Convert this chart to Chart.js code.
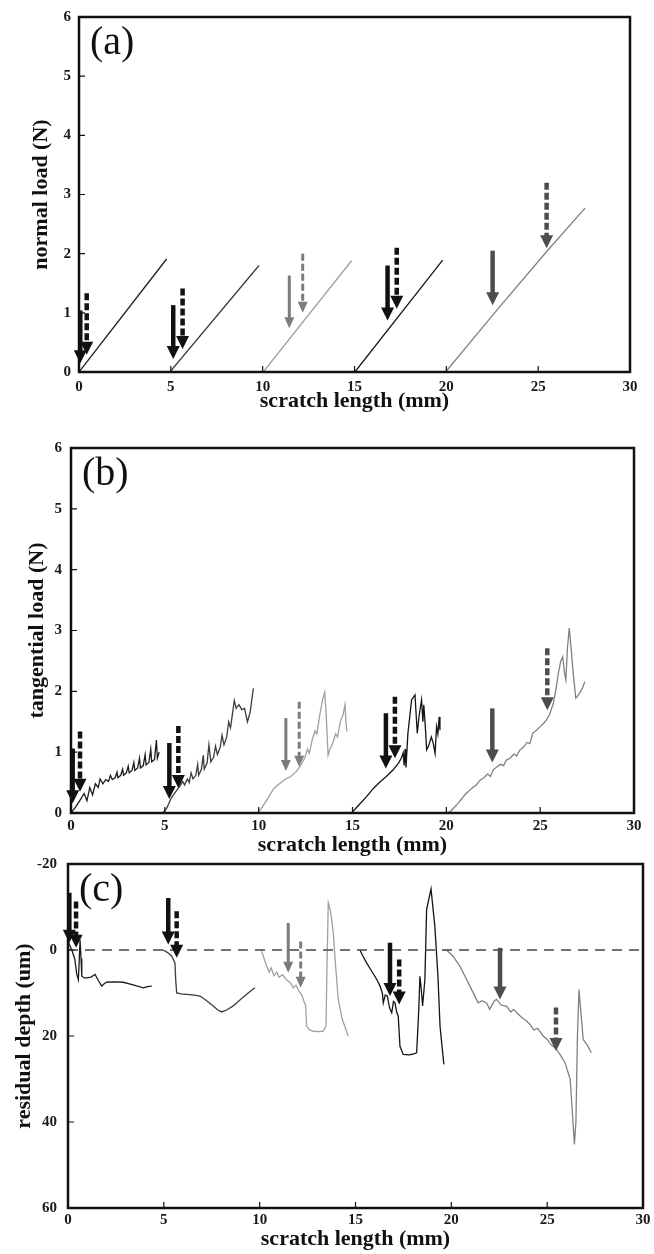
<!DOCTYPE html>
<html>
<head>
<meta charset="utf-8">
<script src="https://cdn.jsdelivr.net/npm/chart.js@4.4.1/dist/chart.umd.min.js"></script>
<style>
  html, body { margin: 0; padding: 0; background: #fff; }
  #page { position: relative; width: 654px; height: 1254px; overflow: hidden; background: #fff; }
  canvas { position: absolute; left: 0; }
</style>
</head>
<body>
<div id="page">
  <canvas id="normalChart" width="654" height="430" style="top:0px"></canvas>
  <canvas id="tangentialChart" width="654" height="450" style="top:420px"></canvas>
  <canvas id="depthChart" width="654" height="414" style="top:840px"></canvas>
</div>
<script>
// tick values
const lengthTicks = [0, 5, 10, 15, 20, 25, 30];
const loadTicks = [0, 1, 2, 3, 4, 5, 6];
const depthTicks = [-20, 0, 20, 40, 60];

// (a) normal load (N) vs scratch length (mm), one run per track
const normalRun1 = [[0, 0], [4.77, 1.91]];
const normalRun2 = [[4.95, 0], [9.8, 1.8]];
const normalRun3 = [[10.03, 0], [14.84, 1.88]];
const normalRun4 = [[15.02, 0], [19.8, 1.89]];
const normalRun5 = [[19.96, 0], [22.9, 1.1], [25.5, 2.05], [27.55, 2.77]];
// arrows: [x, start value, tip value]
const normalSolidArrows = [[0.07, 1.04, 0.15], [5.13, 1.13, 0.22], [11.45, 1.63, 0.74], [16.8, 1.8, 0.87], [22.52, 2.05, 1.13]];
const normalDashedArrows = [[0.42, 1.33, 0.29], [5.64, 1.41, 0.39], [12.18, 2.0, 1.0], [17.3, 2.1, 1.07], [25.46, 3.2, 2.09]];

// (b) tangential load (N)
const tangentialRun1 = [[0, 0], [0.25, 0.1], [0.5, 0.22], [0.7, 0.32], [0.85, 0.2], [1.0, 0.42], [1.15, 0.3], [1.3, 0.48], [1.45, 0.42],
  [1.55, 0.56], [1.7, 0.48], [1.85, 0.55], [2.0, 0.52], [2.1, 0.62], [2.2, 0.55], [2.35, 0.58], [2.45, 0.67], [2.5, 0.58],
  [2.65, 0.62], [2.75, 0.72], [2.8, 0.62], [2.95, 0.66], [3.05, 0.77], [3.1, 0.66], [3.25, 0.7], [3.35, 0.83], [3.4, 0.7],
  [3.55, 0.74], [3.65, 0.9], [3.7, 0.74], [3.85, 0.78], [3.95, 0.96], [4.0, 0.79], [4.15, 0.83], [4.25, 1.05], [4.3, 0.84],
  [4.45, 0.88], [4.55, 1.2], [4.6, 0.9], [4.7, 1.0]];
const tangentialRun2 = [[4.9, 0], [5.1, 0.08], [5.35, 0.25], [5.6, 0.36], [5.8, 0.44], [5.95, 0.52], [6.05, 0.46], [6.2, 0.56],
  [6.3, 0.5], [6.4, 0.66], [6.5, 0.56], [6.65, 0.62], [6.75, 0.8], [6.8, 0.62], [6.95, 0.72], [7.05, 0.95], [7.1, 0.72],
  [7.25, 0.82], [7.35, 1.12], [7.45, 0.84], [7.6, 0.92], [7.7, 1.1], [7.8, 0.96], [7.95, 1.08], [8.05, 1.28], [8.15, 1.12],
  [8.3, 1.25], [8.4, 1.5], [8.5, 1.4], [8.6, 1.62], [8.7, 1.85], [8.8, 1.72], [8.95, 1.78], [9.1, 1.7], [9.25, 1.72],
  [9.4, 1.5], [9.55, 1.66], [9.65, 1.9], [9.72, 2.05]];
const tangentialRun3 = [[9.95, 0], [10.2, 0.1], [10.5, 0.25], [10.8, 0.4], [11.1, 0.48], [11.4, 0.55], [11.7, 0.6], [12.0, 0.68],
  [12.2, 0.76], [12.45, 0.9], [12.6, 1.05], [12.7, 0.98], [12.85, 1.2], [13.0, 1.35], [13.1, 1.3], [13.25, 1.6], [13.4, 1.85],
  [13.52, 1.99], [13.6, 1.6], [13.7, 0.95], [13.8, 1.05], [13.95, 1.15], [14.1, 1.3], [14.2, 1.25], [14.35, 1.5], [14.5, 1.62],
  [14.6, 1.78], [14.65, 1.5], [14.7, 1.34]];
const tangentialRun4 = [[14.95, 0], [15.3, 0.12], [15.75, 0.27], [16.1, 0.4], [16.46, 0.51], [16.8, 0.6], [17.17, 0.71],
  [17.45, 0.82], [17.6, 0.9], [17.7, 0.99], [17.75, 0.78], [17.8, 1.05], [17.85, 0.75], [17.95, 1.3], [18.15, 1.86],
  [18.33, 1.94], [18.45, 1.31], [18.55, 1.6], [18.68, 1.86], [18.75, 1.5], [18.8, 1.78], [18.88, 1.42], [18.95, 1.04],
  [19.05, 1.1], [19.2, 1.25], [19.3, 1.15], [19.4, 0.98], [19.48, 1.42], [19.55, 1.3], [19.62, 1.58], [19.66, 1.36]];
const tangentialRun5 = [[19.9, 0], [20.2, 0.02], [20.6, 0.15], [20.99, 0.3], [21.2, 0.36], [21.4, 0.42], [21.6, 0.46],
  [21.8, 0.54], [22.0, 0.58], [22.2, 0.64], [22.35, 0.6], [22.5, 0.71], [22.7, 0.76], [22.9, 0.8], [23.05, 0.78], [23.2, 0.87],
  [23.4, 0.9], [23.6, 0.97], [23.75, 0.94], [23.9, 1.03], [24.1, 1.08], [24.3, 1.16], [24.45, 1.14], [24.6, 1.31], [24.8, 1.36],
  [25.0, 1.42], [25.2, 1.48], [25.34, 1.53], [25.5, 1.62], [25.7, 1.8], [25.85, 2.05], [25.97, 2.3], [26.1, 2.5], [26.2, 2.57],
  [26.3, 2.3], [26.37, 2.19], [26.45, 2.7], [26.55, 3.04], [26.65, 2.7], [26.76, 2.3], [26.9, 1.89], [27.0, 1.92], [27.1, 1.97],
  [27.25, 2.05], [27.38, 2.16]];
const tangentialSolidArrows = [[0.09, 1.06, 0.16], [5.24, 1.15, 0.23], [11.45, 1.56, 0.69], [16.78, 1.64, 0.73], [22.45, 1.72, 0.83]];
const tangentialDashedArrows = [[0.48, 1.34, 0.35], [5.72, 1.43, 0.41], [12.16, 1.83, 0.76], [17.26, 1.91, 0.9], [25.38, 2.71, 1.69]];

// (c) residual depth (um), axis runs downward
const zeroLevel = [[0, 0], [30, 0]];
const depthRun1 = [[0, -2], [0.2, 0], [0.36, 2.2], [0.45, 5.5], [0.54, 6.9], [0.58, 3], [0.63, -2.4], [0.68, 2], [0.72, 6.1],
  [0.85, 6.5], [0.98, 6.5], [1.2, 6.3], [1.41, 5.7], [1.6, 7.2], [1.76, 8.4], [1.9, 7.8], [2.02, 7.5], [2.4, 7.4], [2.88, 7.5],
  [3.4, 8.1], [3.93, 8.8], [4.15, 8.5], [4.37, 8.4]];
const depthRun2 = [[4.97, 0], [5.2, 0.6], [5.41, 1.4], [5.58, 3], [5.62, 7], [5.67, 10], [5.9, 10.2], [6.19, 10.3], [6.6, 10.5],
  [6.89, 10.7], [7.2, 11.7], [7.58, 13], [7.8, 13.9], [8.02, 14.4], [8.3, 13.9], [8.62, 13], [9.0, 11.5], [9.32, 10.3],
  [9.55, 9.5], [9.75, 8.8]];
const depthRun3 = [[10.1, 0.3], [10.37, 3.8], [10.5, 5.2], [10.6, 4.2], [10.75, 6], [10.89, 5.2], [11.0, 6.3], [11.2, 5.8],
  [11.41, 7], [11.6, 7.6], [11.75, 8.8], [11.9, 8.2], [12.05, 9.6], [12.2, 10.5], [12.3, 11.8], [12.4, 13], [12.45, 17.7],
  [12.6, 18.6], [12.8, 18.9], [13.0, 19], [13.3, 18.9], [13.46, 17.7], [13.52, 2], [13.58, -11], [13.7, -9], [13.84, -4],
  [13.95, 3], [14.1, 11.5], [14.3, 16], [14.62, 20]];
const depthRun4 = [[15.23, 0], [15.4, 1.5], [15.58, 3], [15.8, 4.6], [16.01, 6.1], [16.15, 7.2], [16.28, 8.4], [16.4, 10],
  [16.45, 12.3], [16.55, 10.5], [16.66, 10.7], [16.78, 13.5], [16.89, 14.6], [16.98, 12], [17.06, 12.3], [17.15, 14.5],
  [17.23, 15.4], [17.32, 22.4], [17.49, 24.3], [17.8, 24.4], [18.0, 24.2], [18.19, 23.9], [18.3, 14], [18.36, 6.1],
  [18.43, 9], [18.5, 13], [18.56, 10], [18.62, 6.9], [18.71, -9.4], [18.94, -14.2], [19.14, -5.5], [19.3, 6], [19.41, 17.7],
  [19.61, 26.6]];
const depthRun5 = [[19.75, 0], [20.1, 1.5], [20.45, 3.8], [20.7, 6], [20.97, 8.4], [21.2, 10.5], [21.4, 12.3], [21.6, 11.8],
  [21.84, 12.3], [22.0, 13.8], [22.1, 13], [22.25, 11.8], [22.36, 11.5], [22.6, 12.8], [22.89, 13.1], [23.1, 14.4],
  [23.25, 13.8], [23.41, 14.6], [23.7, 15.8], [23.9, 16.4], [24.1, 17.3], [24.3, 18.6], [24.5, 18.2], [24.79, 20], [25.0, 20.8],
  [25.2, 22], [25.49, 23.1], [25.7, 24.5], [25.93, 26.2], [26.1, 28.6], [26.2, 30], [26.32, 38], [26.42, 45.2], [26.5, 40],
  [26.58, 20], [26.66, 9.2], [26.75, 14], [26.88, 20.8], [27.1, 22.2], [27.3, 23.9]];
const depthSolidArrows = [[0.07, -13.3, -1.7], [5.23, -12.1, -1.3], [11.49, -6.3, 5.3], [16.8, -1.7, 10.7], [22.54, -0.5, 11.5]];
const depthDashedArrows = [[0.42, -11.3, -0.5], [5.67, -9, 1.8], [12.14, -2, 8.8], [17.28, 2.2, 12.7], [25.46, 13.4, 23.5]];

// styling
const runColors = ["#1c1c1c", "#3c3c3c", "#a0a0a0", "#141414", "#808080"];
const arrowColors = ["#111111", "#111111", "#7c7c7c", "#111111", "#4d4d4d"];
const serif = "'Liberation Serif', 'Times New Roman', serif";
const tickFont = { family: serif, size: 15, weight: "bold" };
const titleFont = { family: serif, size: 22, weight: "bold" };

function drawArrow(ctx, x, y0, y1, dashed, color, thin) {
  const head = thin ? 11 : 13;
  const half = thin ? 5 : 6.5;
  ctx.save();
  ctx.strokeStyle = color;
  ctx.fillStyle = color;
  ctx.lineWidth = thin ? 3 : 4.5;
  ctx.setLineDash(dashed ? [7, 3] : []);
  ctx.beginPath();
  ctx.moveTo(x, y0);
  ctx.lineTo(x, y1 - head + 1);
  ctx.stroke();
  ctx.setLineDash([]);
  ctx.beginPath();
  ctx.moveTo(x - half, y1 - head);
  ctx.lineTo(x + half, y1 - head);
  ctx.lineTo(x, y1);
  ctx.closePath();
  ctx.fill();
  ctx.restore();
}

// arrows, frame, inward ticks and the panel letter
const decorPlugin = {
  id: "decor",
  afterDatasetsDraw(chart, args, opts) {
    const { ctx, chartArea: a } = chart;
    const xs = chart.scales.x, ys = chart.scales.y;
    const drawSet = (list, dashed) => list.forEach(([xv, from, to]) => {
      const seg = Math.min(4, Math.floor(xv / 5));
      drawArrow(ctx, xs.getPixelForValue(xv), ys.getPixelForValue(from), ys.getPixelForValue(to),
        dashed, arrowColors[seg], seg === 2);
    });
    drawSet(opts.solid, false);
    drawSet(opts.dashed, true);

    ctx.save();
    ctx.strokeStyle = "#111";
    ctx.lineWidth = 1.2;
    ctx.beginPath();
    xs.ticks.forEach(t => {
      const px = xs.getPixelForValue(t.value);
      if (px > a.left + 3 && px < a.right - 3) { ctx.moveTo(px, a.bottom); ctx.lineTo(px, a.bottom - 6); }
    });
    ys.ticks.forEach(t => {
      const py = ys.getPixelForValue(t.value);
      if (py > a.top + 3 && py < a.bottom - 3) { ctx.moveTo(a.left, py); ctx.lineTo(a.left + 6, py); }
    });
    ctx.stroke();
    ctx.lineWidth = 2.5;
    ctx.strokeRect(a.left, a.top, a.right - a.left, a.bottom - a.top);
    ctx.fillStyle = "#111";
    ctx.font = "40px " + serif;
    ctx.textBaseline = "top";
    ctx.fillText(opts.label, a.left + 11, a.top + 6);
    ctx.restore();
  }
};

function buildPanel(canvasId, cfg) {
  const lines = cfg.runs.map((run, i) => ({
    data: run.map(([x, y]) => ({ x, y })),
    showLine: true,
    borderColor: runColors[i],
    borderWidth: 1.3,
    pointRadius: 0,
    fill: false
  }));
  if (cfg.baseline) {
    lines.unshift({
      data: cfg.baseline.map(([x, y]) => ({ x, y })),
      showLine: true, borderColor: "#444", borderWidth: 1.6, borderDash: [10, 7], pointRadius: 0
    });
  }
  return new Chart(document.getElementById(canvasId), {
    type: "scatter",
    data: { datasets: lines },
    plugins: [decorPlugin],
    options: {
      responsive: false,
      animation: false,
      events: [],
      layout: { padding: { top: cfg.padTop, right: cfg.padRight, left: 0, bottom: 0 } },
      plugins: {
        legend: { display: false },
        tooltip: { enabled: false },
        decor: { solid: cfg.solid, dashed: cfg.dashed, label: cfg.label }
      },
      scales: {
        x: {
          type: "linear", min: 0, max: 30,
          afterBuildTicks: s => { s.ticks = lengthTicks.map(value => ({ value })); },
          afterFit: s => { s.height = cfg.xHeight; },
          grid: { display: false, drawTicks: false },
          border: { display: false },
          ticks: { font: tickFont, color: "#1a1a1a", padding: cfg.xTickPad, maxRotation: 0, autoSkip: false },
          title: { display: true, text: "scratch length (mm)", font: titleFont, color: "#111",
            padding: { top: 0, bottom: cfg.xTitlePad } }
        },
        y: {
          type: "linear", min: cfg.yTicks[0], max: cfg.yTicks[cfg.yTicks.length - 1], reverse: !!cfg.reverse,
          afterBuildTicks: s => { s.ticks = cfg.yTicks.map(value => ({ value })); },
          afterFit: s => { s.width = cfg.yWidth; },
          grid: { display: false, drawTicks: false },
          border: { display: false },
          ticks: { font: tickFont, color: "#1a1a1a", padding: cfg.yTickPad, autoSkip: false },
          title: { display: true, text: cfg.yTitle, font: titleFont, color: "#111",
            padding: { top: cfg.yTitlePad, bottom: 0 } }
        }
      }
    }
  });
}

buildPanel("normalChart", {
  runs: [normalRun1, normalRun2, normalRun3, normalRun4, normalRun5],
  solid: normalSolidArrows, dashed: normalDashedArrows, label: "(a)",
  yTicks: loadTicks, yTitle: "normal load (N)",
  padTop: 15, padRight: 24, yWidth: 79, xHeight: 58,
  xTickPad: 6, xTitlePad: 15, yTickPad: 8, yTitlePad: 28
});

buildPanel("tangentialChart", {
  runs: [tangentialRun1, tangentialRun2, tangentialRun3, tangentialRun4, tangentialRun5],
  solid: tangentialSolidArrows, dashed: tangentialDashedArrows, label: "(b)",
  yTicks: loadTicks, yTitle: "tangential load (N)",
  padTop: 28, padRight: 20, yWidth: 71, xHeight: 57,
  xTickPad: 4, xTitlePad: 11, yTickPad: 9, yTitlePad: 24
});

buildPanel("depthChart", {
  runs: [depthRun1, depthRun2, depthRun3, depthRun4, depthRun5],
  baseline: zeroLevel,
  solid: depthSolidArrows, dashed: depthDashedArrows, label: "(c)",
  yTicks: depthTicks, yTitle: "residual depth (um)", reverse: true,
  padTop: 24, padRight: 11, yWidth: 68, xHeight: 46,
  xTickPad: 3, xTitlePad: 1, yTickPad: 11, yTitlePad: 11
});
</script>
</body>
</html>
